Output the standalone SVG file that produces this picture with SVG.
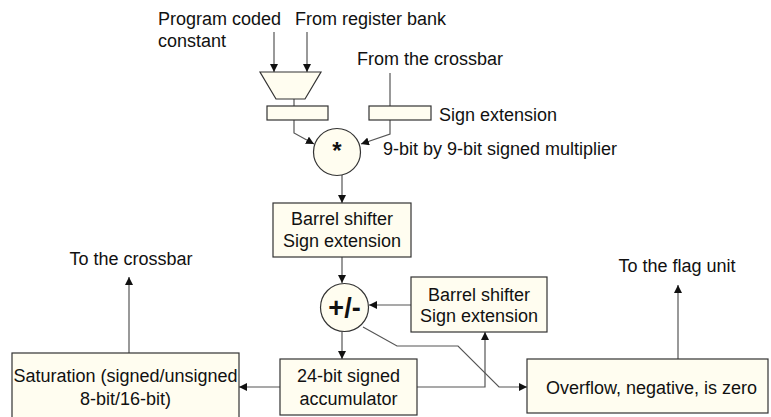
<svg xmlns="http://www.w3.org/2000/svg" width="771" height="417" viewBox="0 0 771 417">
  <style>
    .box { fill: #fffdf0; stroke: #333; stroke-width: 1.2; }
    .wire { fill: none; stroke: #555; stroke-width: 1.2; }
    .lbl { font-family: "Liberation Sans", Arial, sans-serif; font-size: 18px; fill: #111; }
    .mid { text-anchor: middle; }
    .op { font-family: "Liberation Sans", Arial, sans-serif; font-weight: bold; fill: #111; text-anchor: middle; }
  </style>
  <defs>
    <marker id="arrow" viewBox="0 0 10 10" refX="10" refY="5" markerWidth="8" markerHeight="8" markerUnits="userSpaceOnUse" orient="auto">
      <path d="M0,0 L10,5 L0,10 Z" fill="#111"/>
    </marker>
  </defs>
  <rect width="771" height="417" fill="#ffffff"/>

  <!-- free-standing labels -->
  <g id="labels">
    <text class="lbl" x="158" y="25">Program coded</text>
    <text class="lbl" x="158" y="47">constant</text>
    <text class="lbl" x="295" y="25">From register bank</text>
    <text class="lbl" x="357" y="65">From the crossbar</text>
    <text class="lbl" x="439" y="121">Sign extension</text>
    <text class="lbl" x="383" y="155">9-bit by 9-bit signed multiplier</text>
    <text class="lbl mid" x="131" y="265">To the crossbar</text>
    <text class="lbl mid" x="677" y="272">To the flag unit</text>
  </g>

  <!-- connectors -->
  <g id="connectors">
    <path class="wire" d="M274,32 V72" marker-end="url(#arrow)"/>
    <path class="wire" d="M307,32 V72" marker-end="url(#arrow)"/>
    <path class="wire" d="M294,99 V106"/>
    <path class="wire" d="M390,73 V106"/>
    <path class="wire" d="M294,120 V133 L314,144" marker-end="url(#arrow)"/>
    <path class="wire" d="M390,120 V134 L361,144" marker-end="url(#arrow)"/>
    <path class="wire" d="M342,175 V203" marker-end="url(#arrow)"/>
    <path class="wire" d="M342,257 V283" marker-end="url(#arrow)"/>
    <path class="wire" d="M411,305 H369" marker-end="url(#arrow)"/>
    <path class="wire" d="M342,332 V359" marker-end="url(#arrow)"/>
    <path class="wire" d="M280,387 H239" marker-end="url(#arrow)"/>
    <path class="wire" d="M417,387 H485 V332" marker-end="url(#arrow)"/>
    <path class="wire" d="M363,327 L397,346 H458 L499,387 H527" marker-end="url(#arrow)"/>
    <path class="wire" d="M129,353 V277" marker-end="url(#arrow)"/>
    <path class="wire" d="M678,359 V285" marker-end="url(#arrow)"/>
  </g>

  <g id="mux">
    <path class="box" d="M260,72 H321 L305,99 H276 Z"/>
  </g>
  <g id="reg-a">
    <rect class="box" x="267" y="106" width="61" height="14"/>
  </g>
  <g id="reg-b">
    <rect class="box" x="369" y="106" width="62" height="14"/>
  </g>
  <g id="multiplier">
    <circle class="box" cx="337" cy="152" r="23.5"/>
    <text class="op" x="337" y="159" font-size="24">*</text>
  </g>
  <g id="shifter-1">
    <rect class="box" x="273" y="203" width="138" height="54"/>
    <text class="lbl mid" x="342" y="225">Barrel shifter</text>
    <text class="lbl mid" x="342" y="247">Sign extension</text>
  </g>
  <g id="add-sub">
    <circle class="box" cx="344.5" cy="307.5" r="24"/>
    <text class="op" x="344.5" y="317" font-size="27">+/-</text>
  </g>
  <g id="shifter-2">
    <rect class="box" x="411" y="277" width="136" height="55"/>
    <text class="lbl mid" x="479" y="301">Barrel shifter</text>
    <text class="lbl mid" x="479" y="322">Sign extension</text>
  </g>
  <g id="saturation">
    <rect class="box" x="12" y="353" width="227" height="72"/>
    <text class="lbl mid" x="125.5" y="382">Saturation (signed/unsigned</text>
    <text class="lbl mid" x="125.5" y="405">8-bit/16-bit)</text>
  </g>
  <g id="accumulator">
    <rect class="box" x="280" y="359" width="137" height="56"/>
    <text class="lbl mid" x="348.5" y="382">24-bit signed</text>
    <text class="lbl mid" x="348.5" y="405">accumulator</text>
  </g>
  <g id="flags">
    <rect class="box" x="527" y="359" width="241" height="54"/>
    <text class="lbl" x="546" y="394">Overflow, negative, is zero</text>
  </g>
</svg>
